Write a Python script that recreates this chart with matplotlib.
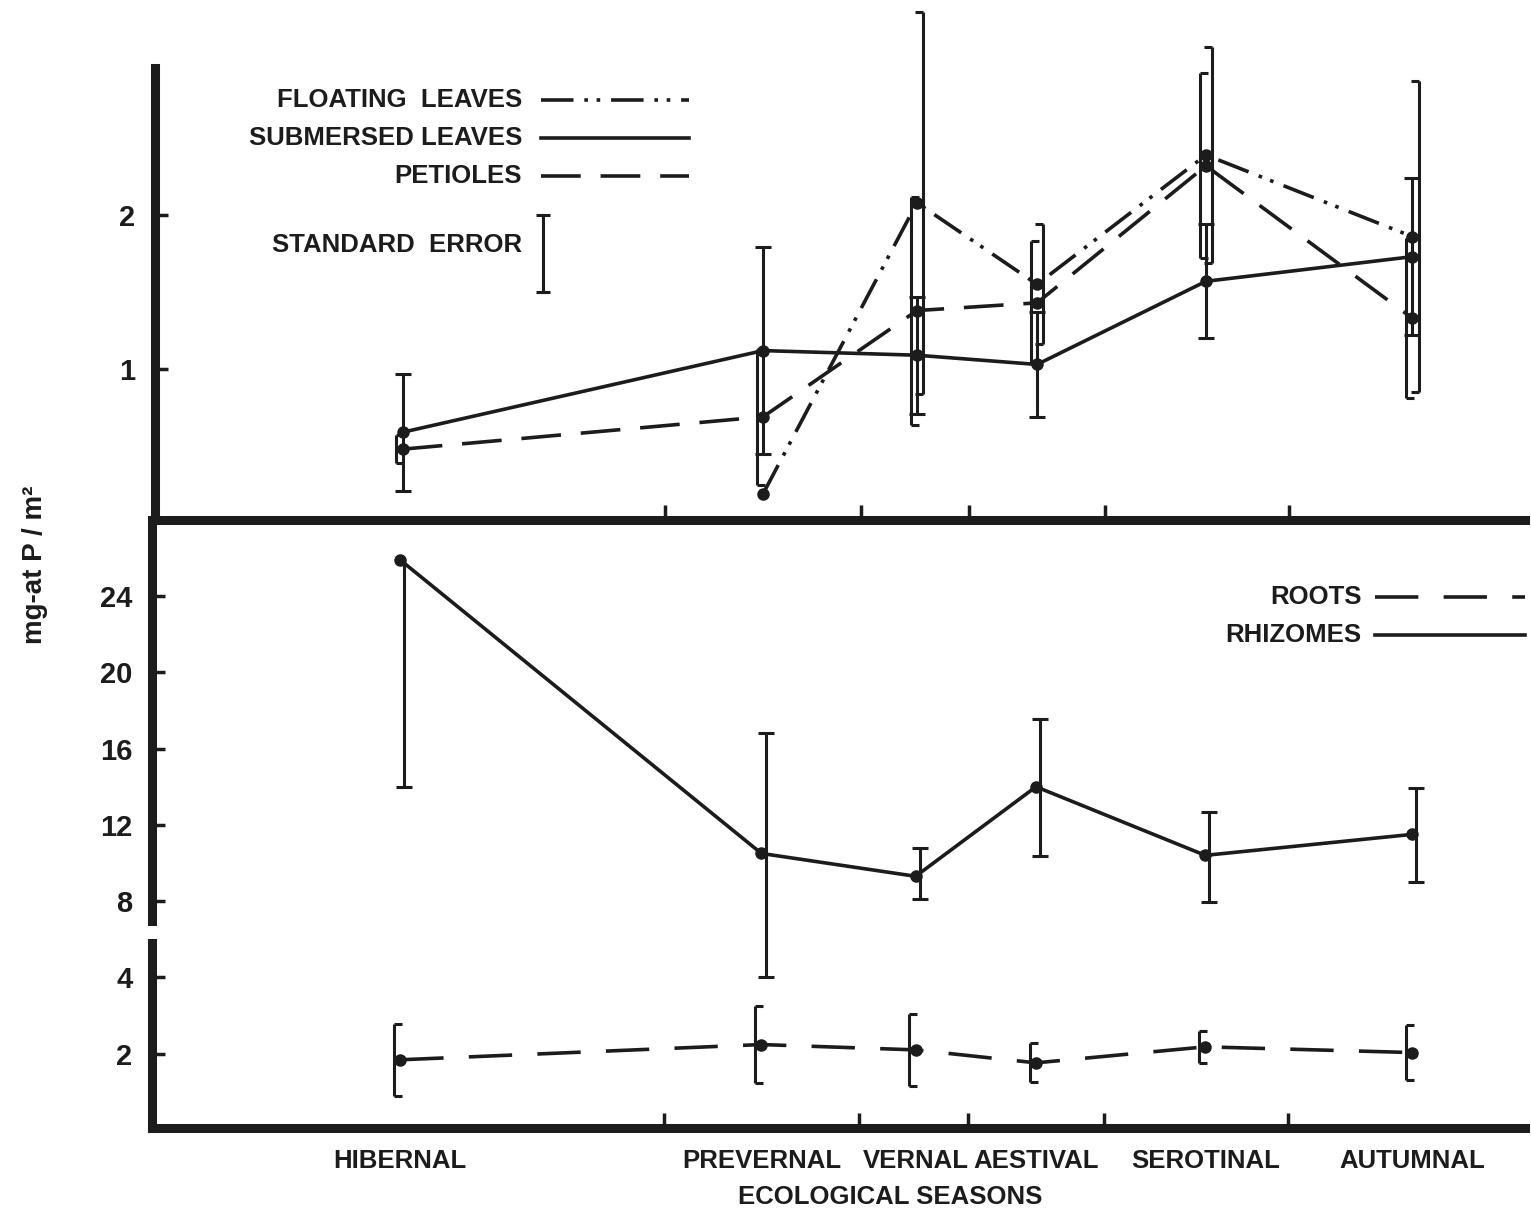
import numpy as np
import matplotlib
matplotlib.use('Agg')
import matplotlib.pyplot as plt
from matplotlib.transforms import ScaledTranslation, blended_transform_factory
from matplotlib.path import Path
from matplotlib.markers import MarkerStyle
from matplotlib.lines import Line2D
from matplotlib.patches import Rectangle

# ---------------- data ----------------
seasons = ['HIBERNAL', 'PREVERNAL', 'VERNAL', 'AESTIVAL', 'SEROTINAL', 'AUTUMNAL']
season_day = [66, 162, 203, 235, 280, 335]          # sampling time (day of year)
season_bounds = [136, 188, 217, 253, 302]           # limits between ecological seasons

floating = [np.nan, 0.19, 2.08, 1.55, 2.39, 1.86]
floating_se = [np.nan, np.nan, 1.24, 0.39, 0.70, 1.01]
submersed = [0.59, 1.12, 1.09, 1.03, 1.57, 1.73]
submersed_se = [0.38, 0.67, 0.38, 0.34, 0.37, 0.51]
petioles = [0.48, 0.69, 1.38, 1.43, 2.32, 1.33]
petioles_se = [0.09, 0.44, 0.74, 0.40, 0.60, 0.52]

rhizomes = [25.9, 10.5, 9.3, 14.0, 10.4, 11.5]
rhizomes_se_low = [11.9, 6.5, 1.2, 3.65, 2.45, 2.5]
rhizomes_se_high = [np.nan, 6.3, 1.5, 3.55, 2.3, 2.45]   # nan: off scale, not drawn
roots = [1.84, 2.24, 2.10, 1.76, 2.18, 2.03]
roots_se = [0.95, 1.01, 0.95, 0.51, 0.42, 0.71]

top_yticks = [1, 2]
bot_yticks = [2, 4, 8, 12, 16, 20, 24]

# ---------------- style ----------------
plt.rcParams['font.family'] = ['Liberation Sans', 'DejaVu Sans']
plt.rcParams['font.weight'] = 'bold'
INK = '#1c1c1c'
LW = 2.6
EW = 2.2
FS = 18.5
floating_ls = (0, (9, 3, 1, 2.4, 1, 3))
petioles_ls = (0, (11, 5.5))
roots_ls = (0, (12, 7))

cap_right = MarkerStyle(Path([(0, 0), (1, 0)]))
cap_left = MarkerStyle(Path([(-1, 0), (0, 0)]))

W, H = 1531, 1214
fig = plt.figure(figsize=(W / 100, H / 100), dpi=100)
fig.patch.set_facecolor('white')


def frac(l, t, r, b):
    return [l / W, 1 - b / H, (r - l) / W, (b - t) / H]


ax_top = fig.add_axes(frac(155, 68, 1525, 520))
ax_bot = fig.add_axes(frac(152, 520, 1525, 1128))


# broken scale for the lower panel: 0-5 stretched, >6 compressed
def fwd(y):
    y = np.asarray(y, float)
    return np.where(y <= 5, 2 * y, np.where(y >= 6, 10.01 + (y - 6), 10 + (y - 5) * 0.01))


def inv(u):
    u = np.asarray(u, float)
    return np.where(u <= 10, u / 2, np.where(u >= 10.01, 6 + (u - 10.01), 5 + (u - 10) / 0.01))


ax_bot.set_yscale('function', functions=(fwd, inv))


def draw_se(ax, x, y, lo, hi, cap, ms, dx_pt, clip=True):
    x = np.asarray(x, float)
    y = np.asarray(y, float)
    lo = np.asarray(lo, float)
    hi = np.asarray(hi, float)
    tr = ax.transData + ScaledTranslation(dx_pt / 72, 0, fig.dpi_scale_trans)
    ax.vlines(x, y - lo, y + np.nan_to_num(hi), colors=INK, lw=EW, transform=tr,
              clip_on=clip, zorder=2)
    for ends in (y - lo, y + hi):
        ax.plot(x, ends, ls='none', marker=cap, ms=ms, mec=INK, mfc=INK, mew=EW,
                transform=tr, clip_on=clip, zorder=2)


# ---------------- top panel ----------------
draw_se(ax_top, season_day, submersed, submersed_se, submersed_se, '_', 11, 0, clip=False)
draw_se(ax_top, season_day, petioles, petioles_se, petioles_se, cap_right, 12, -4.5, clip=False)
draw_se(ax_top, season_day, floating, floating_se, floating_se, cap_left, 12, 4.5, clip=False)

ax_top.plot(season_day, submersed, color=INK, lw=LW, marker='o', ms=8, zorder=3)
ax_top.plot(season_day, petioles, color=INK, lw=LW, ls=petioles_ls, marker='o', ms=8, zorder=3)
ax_top.plot(season_day, floating, color=INK, lw=LW, ls=floating_ls, marker='o', ms=8, zorder=3)

ax_top.set_xlim(0, 365)
ax_top.set_ylim(0.02, 2.955)
ax_top.set_xticks(season_bounds)
ax_top.set_xticklabels([])
ax_top.set_yticks(top_yticks)
ax_top.set_yticklabels([str(v) for v in top_yticks])

# legend (top)
ttr = ax_top.transAxes
top_entries = [('FLOATING  LEAVES', floating_ls, 0.929),
               ('SUBMERSED LEAVES', '-', 0.845),
               ('PETIOLES', petioles_ls, 0.761)]
for lab, ls, yy in top_entries:
    ax_top.text(0.268, yy, lab, transform=ttr, ha='right', va='center', fontsize=FS,
                color=INK, fontweight='bold')
    ax_top.add_line(Line2D([0.282, 0.390], [yy, yy], transform=ttr, color=INK, lw=LW,
                           ls=ls, clip_on=False))
ax_top.text(0.268, 0.608, 'STANDARD  ERROR', transform=ttr, ha='right', va='center',
            fontsize=FS, color=INK, fontweight='bold')
ax_top.add_line(Line2D([0.283, 0.283], [0.504, 0.675], transform=ttr, color=INK, lw=EW,
                       marker='_', ms=10, mew=EW, clip_on=False))

# ---------------- bottom panel ----------------
draw_se(ax_bot, season_day, rhizomes, rhizomes_se_low, rhizomes_se_high, '_', 11, 3)
draw_se(ax_bot, season_day, roots, roots_se, roots_se, cap_right, 12, -4.5)

ax_bot.plot(season_day, rhizomes, color=INK, lw=LW, marker='o', ms=8, zorder=3)
ax_bot.plot(season_day, roots, color=INK, lw=LW, ls=roots_ls, marker='o', ms=8, zorder=3)

ax_bot.set_xlim(0, 365)
ax_bot.set_ylim(0.05, 28)
ax_bot.set_xticks(season_bounds)
ax_bot.set_xticklabels([])
ax_bot.set_xticks(season_day, seasons, minor=True)
ax_bot.set_yticks(bot_yticks)
ax_bot.set_yticklabels([str(v) for v in bot_yticks])
ax_bot.yaxis.set_minor_locator(matplotlib.ticker.NullLocator())

btr = ax_bot.transAxes
bot_entries = [('ROOTS', roots_ls, 0.873), ('RHIZOMES', '-', 0.811)]
for lab, ls, yy in bot_entries:
    ax_bot.text(0.881, yy, lab, transform=btr, ha='right', va='center', fontsize=FS,
                color=INK, fontweight='bold')
    ax_bot.add_line(Line2D([0.891, 1.0], [yy, yy], transform=btr, color=INK, lw=LW,
                           ls=ls, clip_on=False))

# ---------------- axes styling ----------------
for ax in (ax_top, ax_bot):
    ax.set_facecolor('none')
    for s in ('top', 'right'):
        ax.spines[s].set_visible(False)
    for s in ('left', 'bottom'):
        ax.spines[s].set_linewidth(6.5)
        ax.spines[s].set_color(INK)
    ax.tick_params(axis='x', which='major', direction='in', length=11, width=2.5, color=INK)
    ax.tick_params(axis='y', which='major', direction='in', length=9, width=2.5, color=INK,
                   labelsize=21, pad=14, labelcolor=INK)
    for t in ax.get_yticklabels():
        t.set_fontweight('bold')

ax_bot.tick_params(axis='x', which='minor', length=0, pad=15, labelsize=FS, labelcolor=INK)
for t in ax_bot.get_xticklabels(minor=True):
    t.set_fontweight('bold')

# axis break gap on the lower left spine
brk = blended_transform_factory(ax_bot.transAxes, ax_bot.transData)
ax_bot.add_patch(Rectangle((-0.012, 5.0), 0.024, 1.7, transform=brk, facecolor='white',
                           edgecolor='none', zorder=10, clip_on=False))

fig.text(35 / W, 1 - 565 / H, 'mg-at P / m²', rotation=90, ha='center', va='center',
         fontsize=20, color=INK, fontweight='bold')
fig.text(890 / W, 1 - 1197 / H, 'ECOLOGICAL SEASONS', ha='center', va='center',
         fontsize=FS, color=INK, fontweight='bold')

fig.savefig('out.png', dpi=100, facecolor='white')
